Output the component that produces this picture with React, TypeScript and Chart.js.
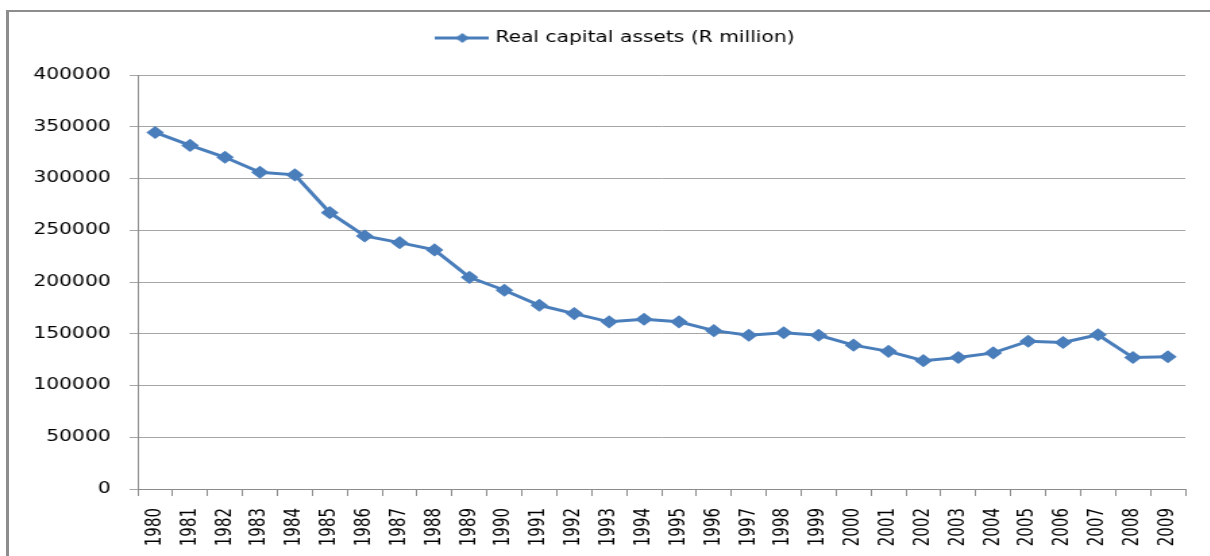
import React, { useEffect, useRef } from "react";
import { Chart, registerables } from "chart.js";

Chart.register(...registerables);

// ---- data ----
const years = [
  "1980", "1981", "1982", "1983", "1984", "1985", "1986", "1987", "1988", "1989",
  "1990", "1991", "1992", "1993", "1994", "1995", "1996", "1997", "1998", "1999",
  "2000", "2001", "2002", "2003", "2004", "2005", "2006", "2007", "2008", "2009",
];
const realCapitalAssets = [
  344500, 332000, 320500, 306000, 303500, 267000, 244500, 238000, 231000, 204500,
  192000, 177500, 169500, 161500, 164000, 161500, 153000, 148500, 151000, 148500,
  139000, 133000, 124000, 127000, 131500, 142800, 141500, 149000, 127000, 127800,
];
const yTickValues = [0, 50000, 100000, 150000, 200000, 250000, 300000, 350000, 400000];
const seriesLabel = "Real capital assets (R million)";

// ---- styling ----
const STRETCH = 1.35;
const W = Math.round(1210 / STRETCH);
const H = 556;
const BLUE = "#4a7ebb";
const GRID = "#a6a6a6";
const AXIS = "#8c8c8c";
const FONT = "'DejaVu Sans', Verdana, sans-serif";

export default function App() {
  const ref = useRef<HTMLCanvasElement>(null);

  useEffect(() => {
    const legendImg = document.createElement("canvas");
    legendImg.width = 40;
    legendImg.height = 12;
    const g = legendImg.getContext("2d")!;
    g.strokeStyle = BLUE;
    g.lineWidth = 3;
    g.beginPath();
    g.moveTo(0, 6);
    g.lineTo(40, 6);
    g.stroke();
    g.fillStyle = BLUE;
    g.beginPath();
    g.moveTo(15, 6);
    g.lineTo(20, 1);
    g.lineTo(25, 6);
    g.lineTo(20, 11);
    g.closePath();
    g.fill();

    const chart = new Chart(ref.current!, {
      type: "line",
      data: {
        labels: years,
        datasets: [
          {
            label: seriesLabel,
            data: realCapitalAssets,
            borderColor: BLUE,
            backgroundColor: BLUE,
            borderWidth: 3,
            pointStyle: "rectRot",
            pointRadius: 5.5,
            pointBorderWidth: 1.5,
            pointBackgroundColor: BLUE,
            pointBorderColor: BLUE,
            tension: 0,
            yAxisID: "y",
          },
        ],
      },
      options: {
        animation: false,
        responsive: false,
        devicePixelRatio: 1,
        layout: { padding: { top: 20.5, left: 18, right: 0, bottom: 0 } },
        plugins: {
          legend: {
            position: "top",
            labels: {
              usePointStyle: true,
              pointStyle: legendImg as any,
              pointStyleWidth: 34,
              font: { family: FONT, size: 15 },
              color: "#000",
              padding: 10,
            },
          },
          title: {
            display: true,
            text: "",
            weight: 500,
            padding: { top: 0, bottom: 7.5 },
            font: { size: 10 },
          } as any,
          tooltip: { enabled: false },
        },
        scales: {
          x: {
            type: "category",
            offset: true,
            grid: {
              display: true,
              drawOnChartArea: false,
              drawTicks: true,
              tickLength: 7,
              color: AXIS,
              offset: true,
            },
            border: { display: true, color: AXIS, width: 1 },
            ticks: {
              autoSkip: false,
              minRotation: 90,
              maxRotation: 90,
              padding: 12,
              font: { family: FONT, size: 15 },
              color: "#000",
            },
            afterFit: (s: any) => {
              s.height = 67;
            },
          },
          y: {
            position: "left",
            min: 0,
            max: 400000,
            afterBuildTicks: (s: any) => {
              s.ticks = yTickValues.map((v) => ({ value: v }));
            },
            ticks: {
              callback: (v: any) => String(v),
              padding: 14,
              font: { family: FONT, size: 15 },
              color: "#000",
            },
            grid: { color: GRID, tickLength: 6, lineWidth: 1 },
            border: { display: true, color: AXIS, width: 1 },
            afterFit: (s: any) => {
              s.width = 84;
            },
          },
          spacer: {
            type: "linear",
            position: "right",
            display: true,
            ticks: { display: false },
            grid: { display: false },
            border: { display: false },
            afterFit: (s: any) => {
              s.width = 18;
            },
          },
        },
      },
    });
    return () => chart.destroy();
  }, []);

  return (
    <div
      style={{
        position: "fixed",
        left: 0,
        top: 0,
        width: 1210,
        height: 556,
        overflow: "hidden",
        background: "#fff",
      }}
    >
      <div
        style={{
          position: "absolute",
          left: 0,
          top: 0,
          width: W,
          height: H,
          transform: `scaleX(${STRETCH})`,
          transformOrigin: "0 0",
        }}
      >
        <canvas ref={ref} width={W} height={H} style={{ display: "block" }} />
      </div>
      <div
        style={{
          position: "absolute",
          left: 6,
          top: 10,
          width: 1260,
          height: 600,
          borderLeft: "3px solid #8d8d8d",
          borderTop: "2px solid #8d8d8d",
          pointerEvents: "none",
        }}
      />
    </div>
  );
}
